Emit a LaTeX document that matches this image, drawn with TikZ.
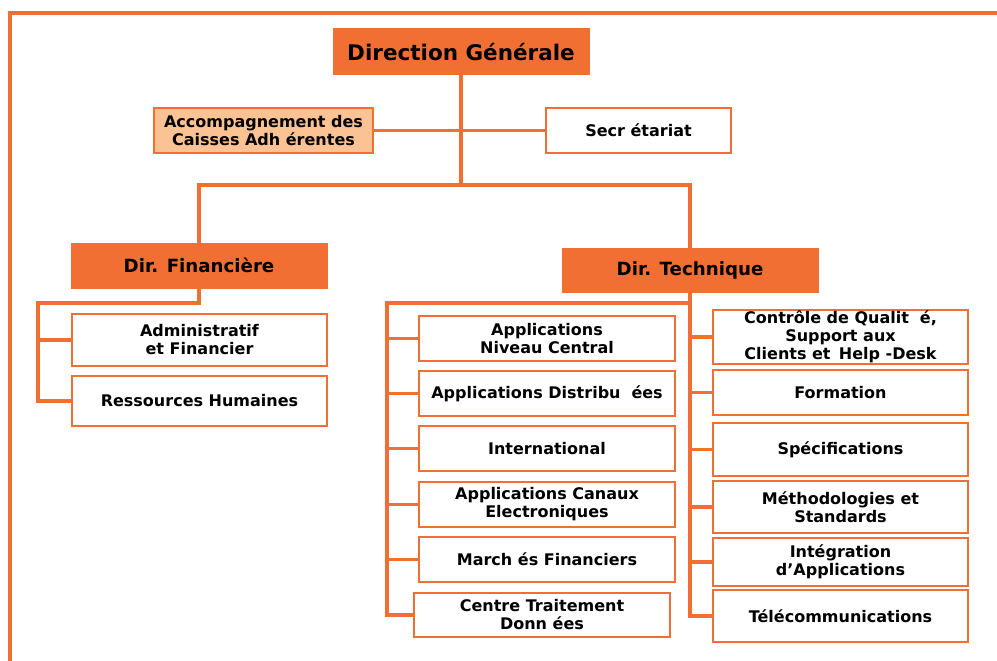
\documentclass[tikz,border=0pt]{standalone}
\usepackage{fontspec}
\setmainfont{DejaVu Sans}
\definecolor{org}{HTML}{F26F33}
\definecolor{lorg}{HTML}{FBC393}
\begin{document}
\begin{tikzpicture}[x=1pt,y=-1pt,
  box/.style={draw=org, line width=1.8pt, fill=white, inner sep=0pt, align=center,
    font=\bfseries\fontsize{16}{18}\selectfont},
  head/.style={fill=org, draw=org, line width=1pt, inner sep=0pt, align=center,
    font=\bfseries\fontsize{18.2}{21}\selectfont},
  conn/.style={draw=org, line width=3.5pt},
  lcol/.style={box, minimum width=256pt, minimum height=45pt},
  rcol/.style={box, minimum width=255pt},
]
\useasboundingbox (0,0) rectangle (997,661);
\draw[conn] (10,661) -- (10,13) -- (997,13);

\node[head, minimum width=256pt, minimum height=46pt, font=\bfseries\fontsize{21.5}{24}\selectfont] (dg) at (461,52) {Direction Générale};
\node[box, fill=lorg, minimum width=219pt, minimum height=45pt] (acc) at (263.5,130.5) {Accompagnement des\\ Caisses Adh érentes};
\node[box, minimum width=185pt, minimum height=45pt] (sec) at (638.5,130.5) {Secr étariat};
\coordinate (j1) at (461,185);

\node[head, minimum width=256pt, minimum height=45pt] (fin) at (199,265.5) {Dir. Financière};
\node[head, minimum width=256pt, minimum height=44pt] (tech) at (690,270) {Dir. Technique};

\node[box, minimum width=255pt, minimum height=52pt] (adm) at (199.5,340) {Administratif\\ et Financier};
\node[box, minimum width=255pt, minimum height=50pt] (rh) at (199.5,401) {Ressources Humaines};
\coordinate (fl) at (38,303);

\node[lcol] (a1) at (547,338.5) {Applications\\ Niveau Central};
\node[lcol] (a2) at (547,393.5) {Applications Distribu\,\, ées};
\node[lcol] (a3) at (547,448.5) {International};
\node[lcol] (a4) at (547,504.5) {Applications Canaux\\ Electroniques};
\node[lcol] (a5) at (547,559.5) {March és Financiers};
\node[lcol, minimum height=44pt] (a6) at (542,615) {Centre Traitement\\ Donn ées};
\coordinate (tl) at (387,303);

\node[rcol, minimum height=54pt] (r1) at (840.5,337) {Contrôle de Qualit\,\, é,\\ Support aux\\ Clients et\, Help -Desk};
\node[rcol, minimum height=45pt] (r2) at (840.5,392.5) {Formation};
\node[rcol, minimum height=53pt] (r3) at (840.5,449.5) {Spécifications};
\node[rcol, minimum height=52pt] (r4) at (840.5,507) {Méthodologies et\\ Standards};
\node[rcol, minimum height=48pt] (r5) at (840.5,562) {Intégration\\ d’Applications};
\node[rcol, minimum height=52pt] (r6) at (840.5,616) {Télécommunications};

\draw[conn] (dg.south) -- (j1);
\draw[conn] (acc.east) -- (sec.west);
\draw[conn] (fin.north) -- (fin.north |- j1) -- (tech.north |- j1) -- (tech.north);
\draw[conn] (fin.south) -- (fin.south |- fl) -- (fl) -- (fl |- rh.west) -- (rh.west);
\draw[conn] (fl |- adm.west) -- (adm.west);
\draw[conn] (tech.south) -- (tech.south |- r6.west) -- (r6.west);
\draw[conn] (tech.south |- tl) -- (tl) -- (tl |- a6.west) -- (a6.west);
\foreach \n in {a1,a2,a3,a4,a5} \draw[conn] (tl |- \n.west) -- (\n.west);
\foreach \n in {r1,r2,r3,r4,r5} \draw[conn] (tech.south |- \n.west) -- (\n.west);
\end{tikzpicture}
\end{document}
